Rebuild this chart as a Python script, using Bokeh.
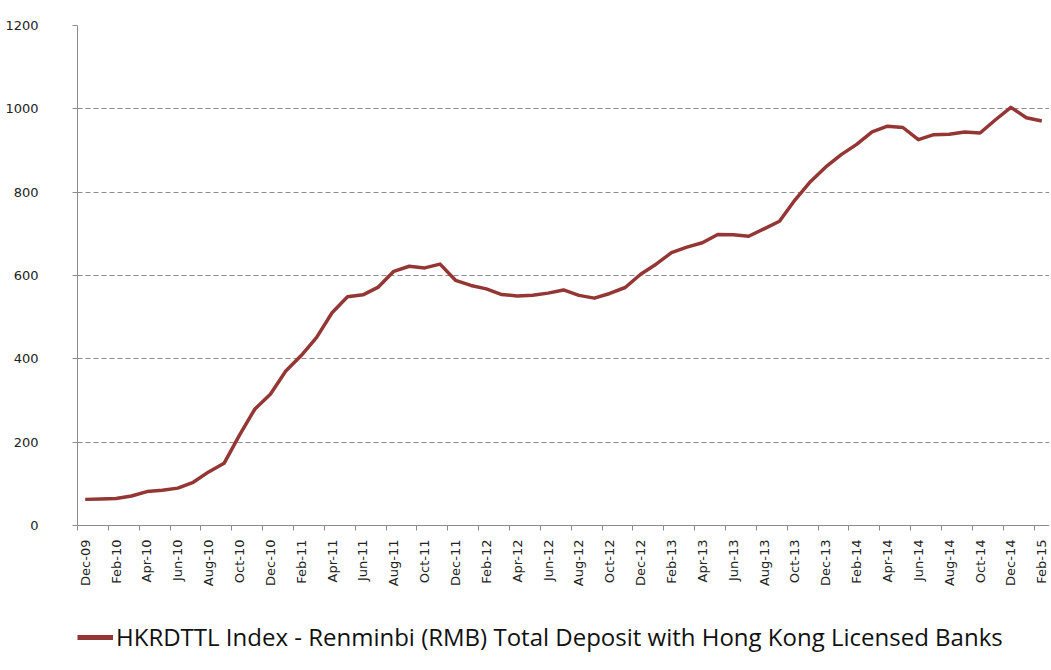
from bokeh.plotting import figure
from bokeh.models import FixedTicker, Legend, LegendItem, Range1d
from bokeh.layouts import column
from bokeh.embed import file_html
from bokeh.resources import INLINE
import math

months = [
    "Dec-09", "Jan-10", "Feb-10", "Mar-10", "Apr-10", "May-10", "Jun-10", "Jul-10", "Aug-10", "Sep-10",
    "Oct-10", "Nov-10", "Dec-10", "Jan-11", "Feb-11", "Mar-11", "Apr-11", "May-11", "Jun-11", "Jul-11",
    "Aug-11", "Sep-11", "Oct-11", "Nov-11", "Dec-11", "Jan-12", "Feb-12", "Mar-12", "Apr-12", "May-12",
    "Jun-12", "Jul-12", "Aug-12", "Sep-12", "Oct-12", "Nov-12", "Dec-12", "Jan-13", "Feb-13", "Mar-13",
    "Apr-13", "May-13", "Jun-13", "Jul-13", "Aug-13", "Sep-13", "Oct-13", "Nov-13", "Dec-13", "Jan-14",
    "Feb-14", "Mar-14", "Apr-14", "May-14", "Jun-14", "Jul-14", "Aug-14", "Sep-14", "Oct-14", "Nov-14",
    "Dec-14", "Jan-15", "Feb-15",
]
deposits = [
    62.7, 63.4, 64.6, 70.7, 81.4, 84.7, 89.7, 103.7, 128.6, 149.2,
    217.1, 279.6, 314.9, 370.6, 407.8, 451.6, 510.7, 548.9, 553.6, 572.2,
    610.0, 622.2, 618.2, 627.3, 588.5, 576.1, 567.8, 554.3, 551.0, 552.4,
    557.7, 565.3, 552.3, 545.7, 556.9, 571.2, 603.0, 627.1, 654.7, 668.1,
    678.7, 698.5, 698.0, 694.1, 711.9, 730.1, 781.1, 825.2, 860.5, 890.1,
    914.7, 944.7, 958.4, 955.2, 925.9, 937.9, 939.0, 944.3, 942.0, 973.8,
    1003.6, 978.7, 971.0,
]
y_ticks = [0, 200, 400, 600, 800, 1000, 1200]
series_name = "HKRDTTL Index - Renminbi (RMB) Total Deposit with Hong Kong Licensed Banks"
line_color = "#943634"

n = len(months)
xs = list(range(n))
label_pos = xs[::2]
boundary_pos = [i - 0.5 for i in xs[::2]] + [n - 0.5]

p = figure(
    frame_width=972, frame_height=500,
    x_range=Range1d(-0.5, n - 0.5), y_range=Range1d(0, 1200),
    output_backend="svg", toolbar_location=None,
    min_border_left=77, min_border_top=25, min_border_right=0, min_border_bottom=95,
)
p.outline_line_color = None
p.background_fill_color = "white"
p.border_fill_color = "white"

p.line(xs, deposits, line_color=line_color, line_width=3.5, line_join="round")

# x axis
xa = p.xaxis[0]
xa.ticker = FixedTicker(ticks=label_pos, minor_ticks=boundary_pos)
xa.major_label_overrides = {i: months[i] for i in label_pos}
xa.major_label_orientation = math.pi / 2
xa.major_tick_line_color = None
xa.major_tick_out = 0
xa.major_tick_in = 0
xa.minor_tick_line_color = "#8c8c8c"
xa.minor_tick_out = 5
xa.minor_tick_in = 0
xa.axis_line_color = "#8c8c8c"
xa.major_label_text_font = "DejaVu Sans"
xa.major_label_text_font_size = "13px"
xa.major_label_text_color = "#222222"
xa.major_label_standoff = 9

# y axis
ya = p.yaxis[0]
ya.ticker = FixedTicker(ticks=y_ticks)
ya.minor_tick_line_color = None
ya.major_tick_line_color = "#8c8c8c"
ya.major_tick_out = 5
ya.major_tick_in = 0
ya.axis_line_color = "#8c8c8c"
ya.major_label_text_font = "DejaVu Sans"
ya.major_label_text_font_size = "13px"
ya.major_label_text_color = "#222222"
ya.major_label_standoff = 34

p.xgrid.grid_line_color = None
p.ygrid.grid_line_color = "#8c8c8c"
p.ygrid.grid_line_dash = "5 3"
p.ygrid.grid_line_width = 1

# legend strip below the chart (its series line lies outside this strip's ranges,
# only the legend key is seen)
lg = figure(
    width=1049, height=40,
    x_range=Range1d(-0.5, n - 0.5), y_range=Range1d(5000, 5001),
    x_axis_type=None, y_axis_type=None,
    output_backend="svg", toolbar_location=None,
    min_border_left=77, min_border_right=0, min_border_top=0, min_border_bottom=0,
)
lg.outline_line_color = None
lg.grid.grid_line_color = None
sample = lg.line(xs, deposits, line_color=line_color, line_width=5)

legend = Legend(
    items=[LegendItem(label=series_name, renderers=[sample])],
    orientation="horizontal",
    glyph_width=36, glyph_height=26,
    label_text_font="Open Sans",
    label_text_font_size="24px",
    label_text_color="#111111",
    label_standoff=3,
    label_height=26,
    border_line_color=None,
    background_fill_alpha=0,
    margin=0, padding=0,
    location="top_left",
)
lg.add_layout(legend, "center")

open("out.html", "w").write(file_html(column(p, lg, spacing=0), INLINE))
